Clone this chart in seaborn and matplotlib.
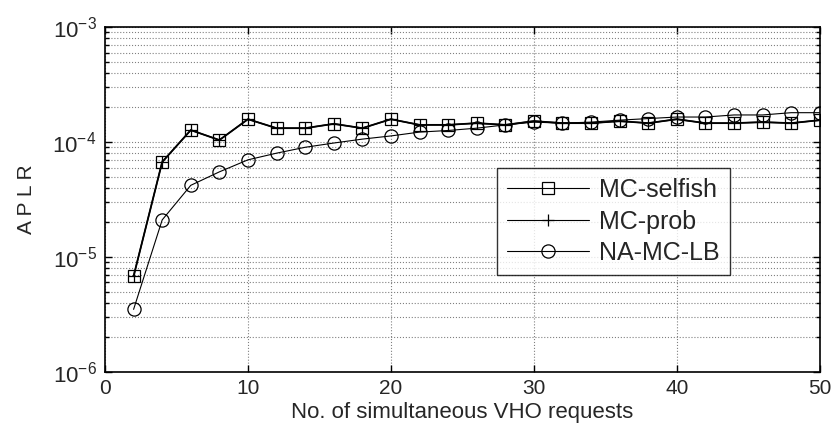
import numpy as np
import pandas as pd
import matplotlib
matplotlib.use("Agg")
import matplotlib.pyplot as plt
import seaborn as sns
from matplotlib.ticker import LogLocator, NullFormatter, MultipleLocator

sns.set_style("ticks")
plt.rcParams['font.family'] = ['Liberation Sans', 'DejaVu Sans']
plt.rcParams['mathtext.fontset'] = 'custom'
plt.rcParams['mathtext.rm'] = 'Liberation Sans'
plt.rcParams['mathtext.it'] = 'Liberation Sans'
plt.rcParams['axes.unicode_minus'] = False

# Data
requests = [2, 4, 6, 8, 10, 12, 14, 16, 18, 20, 22, 24, 26,
            28, 30, 32, 34, 36, 38, 40, 42, 44, 46, 48, 50]
mc_selfish = [6.8e-6, 6.7e-5, 1.27e-4, 1.04e-4, 1.58e-4, 1.32e-4, 1.32e-4,
              1.44e-4, 1.32e-4, 1.58e-4, 1.41e-4, 1.41e-4, 1.46e-4, 1.41e-4,
              1.52e-4, 1.46e-4, 1.46e-4, 1.52e-4, 1.46e-4, 1.58e-4, 1.46e-4,
              1.46e-4, 1.49e-4, 1.46e-4, 1.55e-4]
mc_prob = [6.8e-6, 6.7e-5, 1.27e-4, 1.04e-4, 1.58e-4, 1.32e-4, 1.32e-4,
           1.44e-4, 1.32e-4, 1.58e-4, 1.41e-4, 1.41e-4, 1.46e-4, 1.41e-4,
           1.52e-4, 1.46e-4, 1.46e-4, 1.52e-4, 1.46e-4, 1.58e-4, 1.46e-4,
           1.46e-4, 1.49e-4, 1.46e-4, 1.55e-4]
na_mc_lb = [3.5e-6, 2.1e-5, 4.2e-5, 5.5e-5, 7.0e-5, 8.0e-5, 9.0e-5,
            9.8e-5, 1.06e-4, 1.13e-4, 1.22e-4, 1.26e-4, 1.32e-4, 1.41e-4,
            1.49e-4, 1.46e-4, 1.49e-4, 1.55e-4, 1.60e-4, 1.65e-4, 1.65e-4,
            1.72e-4, 1.72e-4, 1.80e-4, 1.80e-4]

series = {'MC-selfish': (mc_selfish, 's', 1.3, 8.5),
          'MC-prob': (mc_prob, '+', 1.0, 9),
          'NA-MC-LB': (na_mc_lb, 'o', 0.8, 9.5)}

fig = plt.figure(figsize=(8.36, 4.37), dpi=100)
ax = fig.add_axes([0.1256, 0.149, 0.855, 0.789])

for name, (vals, mk, lw, ms) in series.items():
    df = pd.DataFrame({'x': requests, 'y': vals})
    sns.lineplot(data=df, x='x', y='y', ax=ax, color='black', lw=lw,
                 marker=mk, markersize=ms, markerfacecolor='none',
                 markeredgecolor='black', markeredgewidth=0.9, label=name)

ax.set_yscale('log')
ax.set_xlim(0, 50)
ax.set_ylim(1e-6, 1e-3)
ax.xaxis.set_major_locator(MultipleLocator(10))
ax.yaxis.set_major_locator(LogLocator(base=10, numticks=10))
ax.yaxis.set_minor_locator(LogLocator(base=10, subs=np.arange(2, 10), numticks=10))
ax.yaxis.set_minor_formatter(NullFormatter())

ax.grid(True, which='major', axis='both', color='#808080', ls=':', lw=0.8)
ax.grid(True, which='minor', axis='y', color='#808080', ls=':', lw=0.8)
ax.tick_params(which='both', direction='in', top=True, right=True,
               color='black')
ax.tick_params(axis='x', labelsize=15, pad=5)
ax.tick_params(axis='y', labelsize=16, pad=6)
ax.tick_params(which='major', length=5, width=1)
ax.tick_params(which='minor', length=3, width=1)
for s in ax.spines.values():
    s.set_visible(True)
    s.set_linewidth(1.2)
    s.set_color('black')

ax.set_xlabel('No. of simultaneous VHO requests', fontsize=16, labelpad=3)
ax.set_ylabel('A P L R', fontsize=15, labelpad=12)

leg = ax.legend(loc='upper left', bbox_to_anchor=(0.548, 0.591), fontsize=18,
                frameon=True, fancybox=False, edgecolor='black',
                handlelength=3.3, borderpad=0.4, labelspacing=0.3,
                handletextpad=0.4, borderaxespad=0)
leg.get_frame().set_linewidth(1.0)
for h in leg.legend_handles:
    h.set_linewidth(0.8)

fig.savefig('out.png', dpi=100)
